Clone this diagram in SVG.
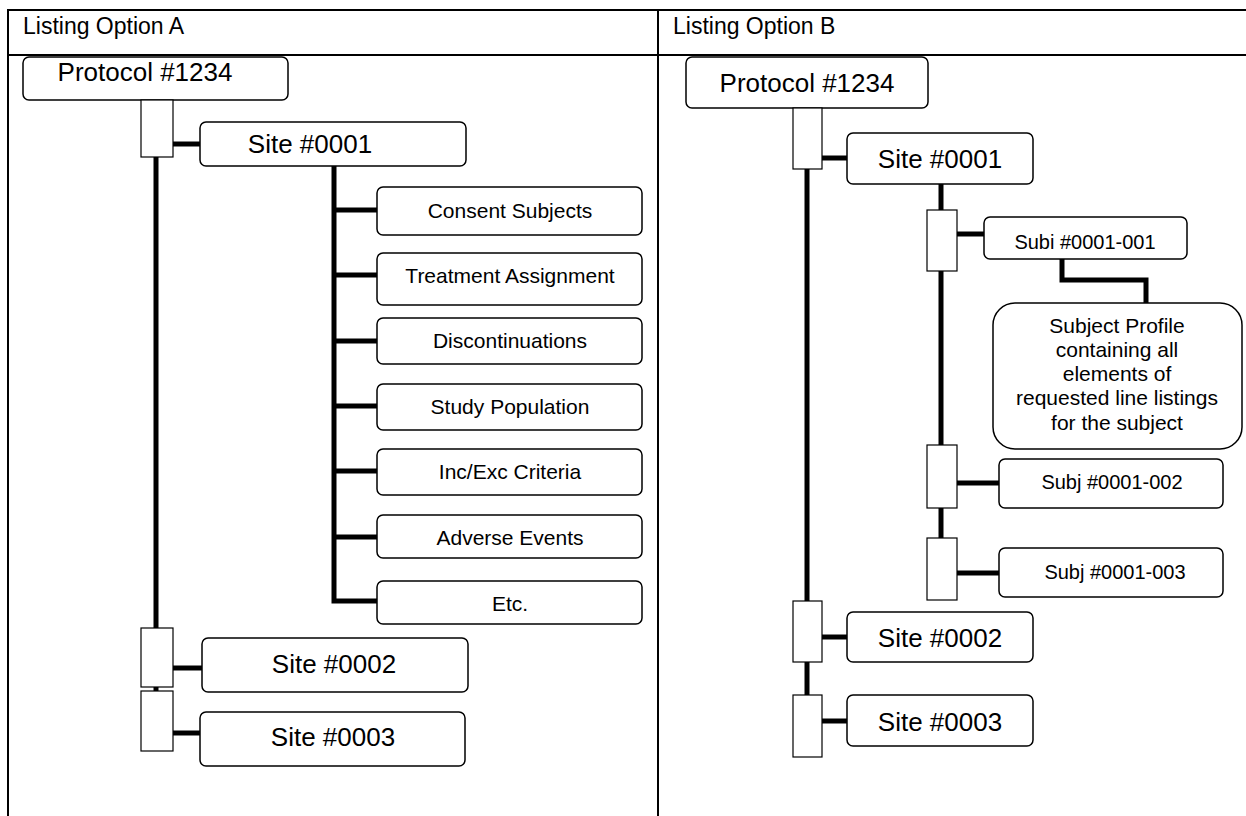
<svg xmlns="http://www.w3.org/2000/svg" width="1246" height="816" viewBox="0 0 1246 816">
<style>
.frame{fill:none;stroke:#000;stroke-width:2}
.box{fill:#fff;stroke:#000;stroke-width:1.5}
.stub{fill:#fff;stroke:#000;stroke-width:1.2}
.wire{fill:none;stroke:#000;stroke-width:5}
text{font-family:"Liberation Sans",Arial,sans-serif;fill:#000}
.hdr{font-size:23px}
.big{font-size:26px;text-anchor:middle}
.mid{font-size:21px;text-anchor:middle}
.sm{font-size:20px;text-anchor:middle}
</style>
<rect x="0" y="0" width="1246" height="816" fill="#fff"/>
<g id="table">
<rect class="frame" x="8" y="10" width="1250" height="820"/>
<line class="frame" x1="8" y1="55" x2="1250" y2="55"/>
<line class="frame" x1="658" y1="10" x2="658" y2="830"/>
<text class="hdr" x="23" y="34">Listing Option A</text>
<text class="hdr" x="673" y="34">Listing Option B</text>
</g>
<g id="connectors">
<line class="wire" x1="173" y1="144" x2="200" y2="144"/>
<line class="wire" x1="156" y1="157" x2="156" y2="628"/>
<line class="wire" x1="156" y1="687" x2="156" y2="691"/>
<line class="wire" x1="173" y1="668" x2="202" y2="668"/>
<line class="wire" x1="173" y1="733" x2="200" y2="733"/>
<path class="wire" d="M334 166 V601 H377"/>
<line class="wire" x1="334" y1="210" x2="377" y2="210"/>
<line class="wire" x1="334" y1="275" x2="377" y2="275"/>
<line class="wire" x1="334" y1="341" x2="377" y2="341"/>
<line class="wire" x1="334" y1="406" x2="377" y2="406"/>
<line class="wire" x1="334" y1="471" x2="377" y2="471"/>
<line class="wire" x1="334" y1="537" x2="377" y2="537"/>
<line class="wire" x1="822" y1="158" x2="847" y2="158"/>
<line class="wire" x1="807" y1="169" x2="807" y2="601"/>
<line class="wire" x1="807" y1="662" x2="807" y2="695"/>
<line class="wire" x1="822" y1="637" x2="847" y2="637"/>
<line class="wire" x1="822" y1="721" x2="847" y2="721"/>
<line class="wire" x1="941" y1="184" x2="941" y2="210"/>
<line class="wire" x1="957" y1="234" x2="984" y2="234"/>
<line class="wire" x1="941" y1="271" x2="941" y2="445"/>
<line class="wire" x1="941" y1="508" x2="941" y2="538"/>
<line class="wire" x1="957" y1="483" x2="999" y2="483"/>
<line class="wire" x1="957" y1="573" x2="999" y2="573"/>
<path class="wire" d="M1062 259 V280 H1146 V303"/>
</g>
<g id="a-protocol"><rect class="box" x="23" y="57" width="265" height="43" rx="6"/><text class="big" x="145" y="81">Protocol #1234</text></g>
<g id="a-stub1"><rect class="stub" x="141" y="100" width="32" height="57"/></g>
<g id="a-site1"><rect class="box" x="200" y="122" width="266" height="44" rx="6"/><text class="big" x="310" y="153">Site #0001</text></g>
<g id="a-consent"><rect class="box" x="377" y="187" width="265" height="48" rx="6"/><text class="mid" x="510" y="218">Consent Subjects</text></g>
<g id="a-treatment"><rect class="box" x="377" y="253" width="265" height="52" rx="6"/><text class="mid" x="510" y="283">Treatment Assignment</text></g>
<g id="a-discontinuations"><rect class="box" x="377" y="318" width="265" height="46" rx="6"/><text class="mid" x="510" y="348">Discontinuations</text></g>
<g id="a-population"><rect class="box" x="377" y="384" width="265" height="46" rx="6"/><text class="mid" x="510" y="414">Study Population</text></g>
<g id="a-incexc"><rect class="box" x="377" y="449" width="265" height="46" rx="6"/><text class="mid" x="510" y="479">Inc/Exc Criteria</text></g>
<g id="a-adverse"><rect class="box" x="377" y="515" width="265" height="43" rx="6"/><text class="mid" x="510" y="545">Adverse Events</text></g>
<g id="a-etc"><rect class="box" x="377" y="581" width="265" height="43" rx="6"/><text class="mid" x="510" y="611">Etc.</text></g>
<g id="a-stub2"><rect class="stub" x="141" y="628" width="32" height="59"/></g>
<g id="a-site2"><rect class="box" x="202" y="638" width="266" height="54" rx="6"/><text class="big" x="334" y="673">Site #0002</text></g>
<g id="a-stub3"><rect class="stub" x="141" y="691" width="32" height="60"/></g>
<g id="a-site3"><rect class="box" x="200" y="712" width="265" height="54" rx="6"/><text class="big" x="333" y="746">Site #0003</text></g>

<g id="b-protocol"><rect class="box" x="686" y="57" width="242" height="51" rx="6"/><text class="big" x="807" y="92">Protocol #1234</text></g>
<g id="b-stub1"><rect class="stub" x="793" y="108" width="29" height="61"/></g>
<g id="b-site1"><rect class="box" x="847" y="133" width="186" height="51" rx="6"/><text class="big" x="940" y="168">Site #0001</text></g>
<g id="b-stubs1"><rect class="stub" x="927" y="210" width="30" height="61"/></g>
<g id="b-subj1"><rect class="box" x="984" y="217" width="203" height="42" rx="6"/><text class="sm" x="1085" y="249">Subi #0001-001</text></g>
<g id="b-profile"><rect class="box" x="993" y="303" width="249" height="146" rx="22"/>
<text class="mid" x="1117" y="333">Subject Profile</text>
<text class="mid" x="1117" y="357">containing all</text>
<text class="mid" x="1117" y="381">elements of</text>
<text class="mid" x="1117" y="405">requested line listings</text>
<text class="mid" x="1117" y="430">for the subject</text></g>
<g id="b-stubs2"><rect class="stub" x="927" y="445" width="30" height="63"/></g>
<g id="b-subj2"><rect class="box" x="999" y="459" width="224" height="49" rx="6"/><text class="sm" x="1112" y="489">Subj #0001-002</text></g>
<g id="b-stubs3"><rect class="stub" x="927" y="538" width="30" height="62"/></g>
<g id="b-subj3"><rect class="box" x="999" y="548" width="224" height="49" rx="6"/><text class="sm" x="1115" y="579">Subj #0001-003</text></g>
<g id="b-stub2"><rect class="stub" x="793" y="601" width="29" height="61"/></g>
<g id="b-site2"><rect class="box" x="847" y="612" width="186" height="50" rx="6"/><text class="big" x="940" y="647">Site #0002</text></g>
<g id="b-stub3"><rect class="stub" x="793" y="695" width="29" height="62"/></g>
<g id="b-site3"><rect class="box" x="847" y="695" width="186" height="51" rx="6"/><text class="big" x="940" y="731">Site #0003</text></g>
</svg>
